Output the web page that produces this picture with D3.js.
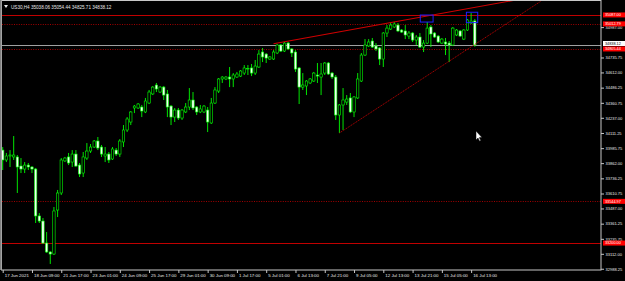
<html>
<head>
<script src="https://d3js.org/d3.v7.min.js"></script>
<style>
body { margin: 0; background: #000; }
svg { display: block; }
</style>
</head>
<body>
<svg width=625 height=281></svg>
<script>
// US30 H4 bars, 17 Jun - 16 Jul 2021
const opens = [33970,33888,33921,33913,33913,33838,33813,33846,33830,33813,33425,33383,33201,33127,33110,33474,33615,33880,33913,33871,
  33937,33846,33780,33904,33962,33995,34045,33995,33921,33937,33896,33970,33937,34037,34136,34202,34318,34318,34326,34285,
  34359,34434,34508,34450,34491,34434,34334,34243,34301,34235,34285,34326,34384,34326,34285,34285,34301,34194,34359,34458,
  34558,34558,34574,34558,34574,34582,34607,34642,34649,34607,34657,34781,34764,34723,34723,34773,34839,34789,34855,34806,
  34781,34649,34491,34500,34525,34541,34591,34574,34607,34690,34607,34574,34260,34343,34367,34401,34285,34401,34541,34756,
  34831,34872,34831,34814,34723,34938,34971,34988,35004,34963,34955,34913,34938,34880,34905,34822,34855,34988,34938,34913,
  34855,34864,34855,34839,34922,34955,34888,34963,35021,35038.06];
const highs = [33995,33946,33970,34086,33929,33904,33871,33863,33838,33822,33449,33408,33292,33135,33499,33640,33904,33913,33946,33970,
  33970,33863,33954,34028,34020,34053,34078,34012,33995,33954,33995,33987,34061,34177,34243,34293,34343,34359,34343,34401,
  34467,34500,34525,34500,34500,34467,34343,34318,34318,34310,34359,34483,34450,34334,34343,34343,34326,34401,34491,34566,
  34582,34582,34657,34607,34616,34632,34673,34673,34682,34715,34797,34814,34773,34748,34797,34847,34847,34864,34864,34814,
  34797,34657,34607,34549,34566,34616,34690,34690,34698,34698,34616,34591,34351,34483,34425,34442,34417,34607,34773,34888,
  34888,34897,34855,34822,34946,35004,35021,35029,35021,34971,35004,34955,34946,34922,34938,34880,35029,35004,34946,34922,
  34897,34897,34872,34988,34971,34963,34971,35054,35104,35054.44];
const lows = [33805,33871,33830,33888,33615,33780,33780,33805,33780,33367,33367,33193,33119,33028,33102,33416,33598,33871,33846,33830,
  33830,33747,33747,33888,33946,33987,33970,33913,33871,33863,33888,33921,33913,33995,34119,34177,34276,34310,34243,34276,
  34351,34425,34450,34442,34384,34243,34177,34202,34219,34219,34276,34301,34301,34260,34276,34276,34119,34186,34351,34442,
  34525,34549,34491,34491,34566,34574,34591,34591,34582,34591,34649,34698,34690,34715,34715,34764,34781,34781,34797,34740,
  34616,34351,34467,34425,34516,34533,34525,34425,34591,34591,34558,34219,34111,34136,34343,34276,34243,34392,34533,34748,
  34822,34814,34789,34673,34657,34905,34963,34979,34946,34938,34888,34888,34864,34839,34814,34781,34847,34822,34897,34855,
  34847,34756,34698,34831,34913,34905,34880,34955,35013,34825.71];
const closes = [33888,33921,33929,33929,33830,33813,33846,33830,33813,33425,33383,33201,33127,33110,33466,33615,33888,33904,33863,33937,
  33838,33772,33913,33962,33995,34045,33987,33937,33937,33888,33979,33937,34045,34136,34227,34285,34334,34351,34293,34376,
  34450,34491,34475,34491,34425,34326,34243,34301,34235,34301,34326,34384,34318,34285,34310,34334,34202,34359,34467,34558,
  34574,34574,34558,34591,34599,34624,34649,34645,34607,34665,34764,34740,34731,34740,34781,34839,34789,34855,34806,34773,
  34640,34491,34508,34541,34558,34607,34582,34599,34690,34599,34574,34260,34343,34384,34392,34285,34409,34558,34756,34839,
  34864,34822,34806,34723,34938,34979,35004,35013,34955,34946,34922,34938,34880,34905,34822,34855,34979,34930,34905,34864,
  34888,34847,34839,34979,34963,34913,34963,35046,35037,34838.12];

// time axis: one label every 8 bars
const timeLabels = ["17 Jun 2021","18 Jun 09:00","21 Jun 17:00","23 Jun 01:00","24 Jun 09:00","25 Jun 17:00",
  "29 Jun 01:00","30 Jun 09:00","1 Jul 17:00","5 Jul 01:00","6 Jul 13:00","7 Jul 21:00","9 Jul 05:00",
  "12 Jul 13:00","13 Jul 21:00","15 Jul 05:00","16 Jul 13:00"];
const priceTicks = [32988.25,33112.00,33235.75,33361.25,33487.00,33610.75,33736.25,33862.00,33985.75,
  34111.25,34237.00,34360.75,34486.25,34612.00,34735.75,34987.00];

// horizontal levels
const solidLevels = [35087.00, 33200.00];
const dottedLevels = [35012.79, 34805.44, 33544.97];
const bidPrice = 34838.12;

// trendlines [bar, price]
const upperTrend = [[74, 34850], [140, 35210]];
const lowerTrend = [[92, 34111], [147, 35200]];
// rectangles [bar0, bar1, priceTop, priceBottom]
const boxes = [[114.1, 117.6, 35087, 35029], [126.7, 129.8, 35110, 35024]];

const svg = d3.select("svg");
const W = 625, H = 281;
const pLeft = 2, pRight = 601, pTop = 1, pBottom = 270;

svg.append("rect").attr("width", W).attr("height", H).attr("fill", "#000");

const x = d3.scaleLinear().domain([0, 129]).range([2.7, 474.8]);
const y = d3.scaleLinear().domain([32978, 35203]).range([pBottom, pTop]);

svg.append("clipPath").attr("id", "plot")
  .append("rect").attr("x", pLeft).attr("y", pTop).attr("width", pRight - pLeft).attr("height", pBottom - pTop);

const plot = svg.append("g").attr("clip-path", "url(#plot)");

// levels
plot.selectAll(".solid").data(solidLevels).enter().append("line")
  .attr("x1", pLeft).attr("x2", pRight)
  .attr("y1", d => Math.round(y(d)) + 0.5).attr("y2", d => Math.round(y(d)) + 0.5)
  .attr("stroke", "#c00000").attr("stroke-width", 1);
plot.selectAll(".dotted").data(dottedLevels).enter().append("line")
  .attr("x1", pLeft).attr("x2", pRight)
  .attr("y1", d => Math.round(y(d)) + 0.5).attr("y2", d => Math.round(y(d)) + 0.5)
  .attr("stroke", "#a00000").attr("stroke-width", 1).attr("stroke-dasharray", "1,1.4");
plot.append("line")
  .attr("x1", pLeft).attr("x2", pRight)
  .attr("y1", Math.round(y(bidPrice)) + 0.5).attr("y2", Math.round(y(bidPrice)) + 0.5)
  .attr("stroke", "#a0a0a0").attr("stroke-width", 1);

// candles
const bars = d3.range(opens.length);
plot.selectAll(".wick").data(bars).enter().append("line")
  .attr("x1", i => x(i)).attr("x2", i => x(i))
  .attr("y1", i => y(highs[i])).attr("y2", i => y(lows[i]))
  .attr("stroke", "#00ff00").attr("stroke-width", 0.9);
plot.selectAll(".body").data(bars).enter().append("rect")
  .attr("x", i => x(i) - 1.2)
  .attr("width", 2.4)
  .attr("y", i => y(Math.max(opens[i], closes[i])))
  .attr("height", i => Math.max(0.6, Math.abs(y(opens[i]) - y(closes[i]))))
  .attr("fill", i => closes[i] >= opens[i] ? "#000" : "#f0fff0")
  .attr("stroke", "#00ff00").attr("stroke-width", 0.6);

// trendlines
plot.append("line")
  .attr("x1", x(upperTrend[0][0])).attr("y1", y(upperTrend[0][1]))
  .attr("x2", x(upperTrend[1][0])).attr("y2", y(upperTrend[1][1]))
  .attr("stroke", "#d00000").attr("stroke-width", 1.1);
plot.append("line")
  .attr("x1", x(lowerTrend[0][0])).attr("y1", y(lowerTrend[0][1]))
  .attr("x2", x(lowerTrend[1][0])).attr("y2", y(lowerTrend[1][1]))
  .attr("stroke", "#c00000").attr("stroke-width", 0.9).attr("stroke-dasharray", "1.2,0.8");

// boxes
plot.selectAll(".box").data(boxes).enter().append("rect")
  .attr("x", d => x(d[0])).attr("width", d => x(d[1]) - x(d[0]))
  .attr("y", d => y(d[2])).attr("height", d => y(d[3]) - y(d[2]))
  .attr("fill", "none").attr("stroke", "#1e1eff").attr("stroke-width", 1);

// frame
svg.append("rect").attr("x", 1.5).attr("y", 0.5).attr("width", pRight - 1.5).attr("height", pBottom - 0.5)
  .attr("fill", "none").attr("stroke", "#c8c8c8").attr("stroke-width", 1);
svg.append("rect").attr("x", 0).attr("y", 0).attr("width", 1.5).attr("height", pBottom)
  .attr("fill", "#808080");

const font = "Liberation Sans, Arial, sans-serif";

// price axis
const yAxis = svg.append("g").attr("transform", `translate(${pRight},0)`)
  .call(d3.axisRight(y).tickValues(priceTicks).tickSize(3).tickPadding(1.5).tickFormat(d3.format(".2f")));
yAxis.select(".domain").remove();
yAxis.selectAll("line").attr("stroke", "#c8c8c8");
yAxis.selectAll("text").attr("fill", "#e8e8e8").style("font-family", font).style("font-size", "4px");

// time axis
const xAxis = svg.append("g").attr("transform", `translate(0,${pBottom})`)
  .call(d3.axisBottom(x).tickValues(timeLabels.map((d, i) => i * 8)).tickSize(3)
    .tickFormat((d, i) => timeLabels[i]));
xAxis.select(".domain").remove();
xAxis.selectAll("line").attr("stroke", "#c8c8c8");
xAxis.selectAll("text").attr("fill", "#e8e8e8").attr("text-anchor", "start")
  .attr("x", 1.5).attr("y", 4).attr("dy", "0.71em")
  .style("font-family", font).style("font-size", "4.4px");

// level labels on the price axis
const tags = solidLevels.concat(dottedLevels);
svg.selectAll(".tag").data(tags).enter().append("rect")
  .attr("x", pRight + 2).attr("width", W - pRight - 2)
  .attr("y", d => y(d) - 2.6).attr("height", 5)
  .attr("fill", "#ff0000");
svg.selectAll(".tagtext").data(tags).enter().append("text")
  .attr("x", pRight + 4).attr("y", d => y(d) + 1.2)
  .attr("fill", "#fff").style("font-family", font).style("font-size", "3.8px")
  .text(d => d3.format(".2f")(d));
svg.append("rect").attr("x", pRight + 2).attr("width", W - pRight - 2)
  .attr("y", Math.round(y(bidPrice)) - 4).attr("height", 5).attr("fill", "#fff");
svg.append("text").attr("x", pRight + 4).attr("y", Math.round(y(bidPrice)) + 0.2)
  .attr("fill", "#000").style("font-family", font).style("font-size", "3.8px")
  .text(d3.format(".2f")(bidPrice));

// title
svg.append("path").attr("d", "M4,5 L8,5 L6,8 Z").attr("fill", "#e8e8e8");
svg.append("text").attr("x", 11).attr("y", 8.5)
  .attr("fill", "#e8e8e8").style("font-family", font).style("font-size", "4.6px")
  .text("US30,H4  35038.06 35054.44 34825.71 34838.12");

// mouse pointer
svg.append("path")
  .attr("d", "M476,131 L476,140 L478,138 L479.6,141.2 L480.8,140.6 L479.3,137.6 L482,137.6 Z")
  .attr("fill", "#fff").attr("stroke", "#000").attr("stroke-width", 0.5);
</script>
</body>
</html>
